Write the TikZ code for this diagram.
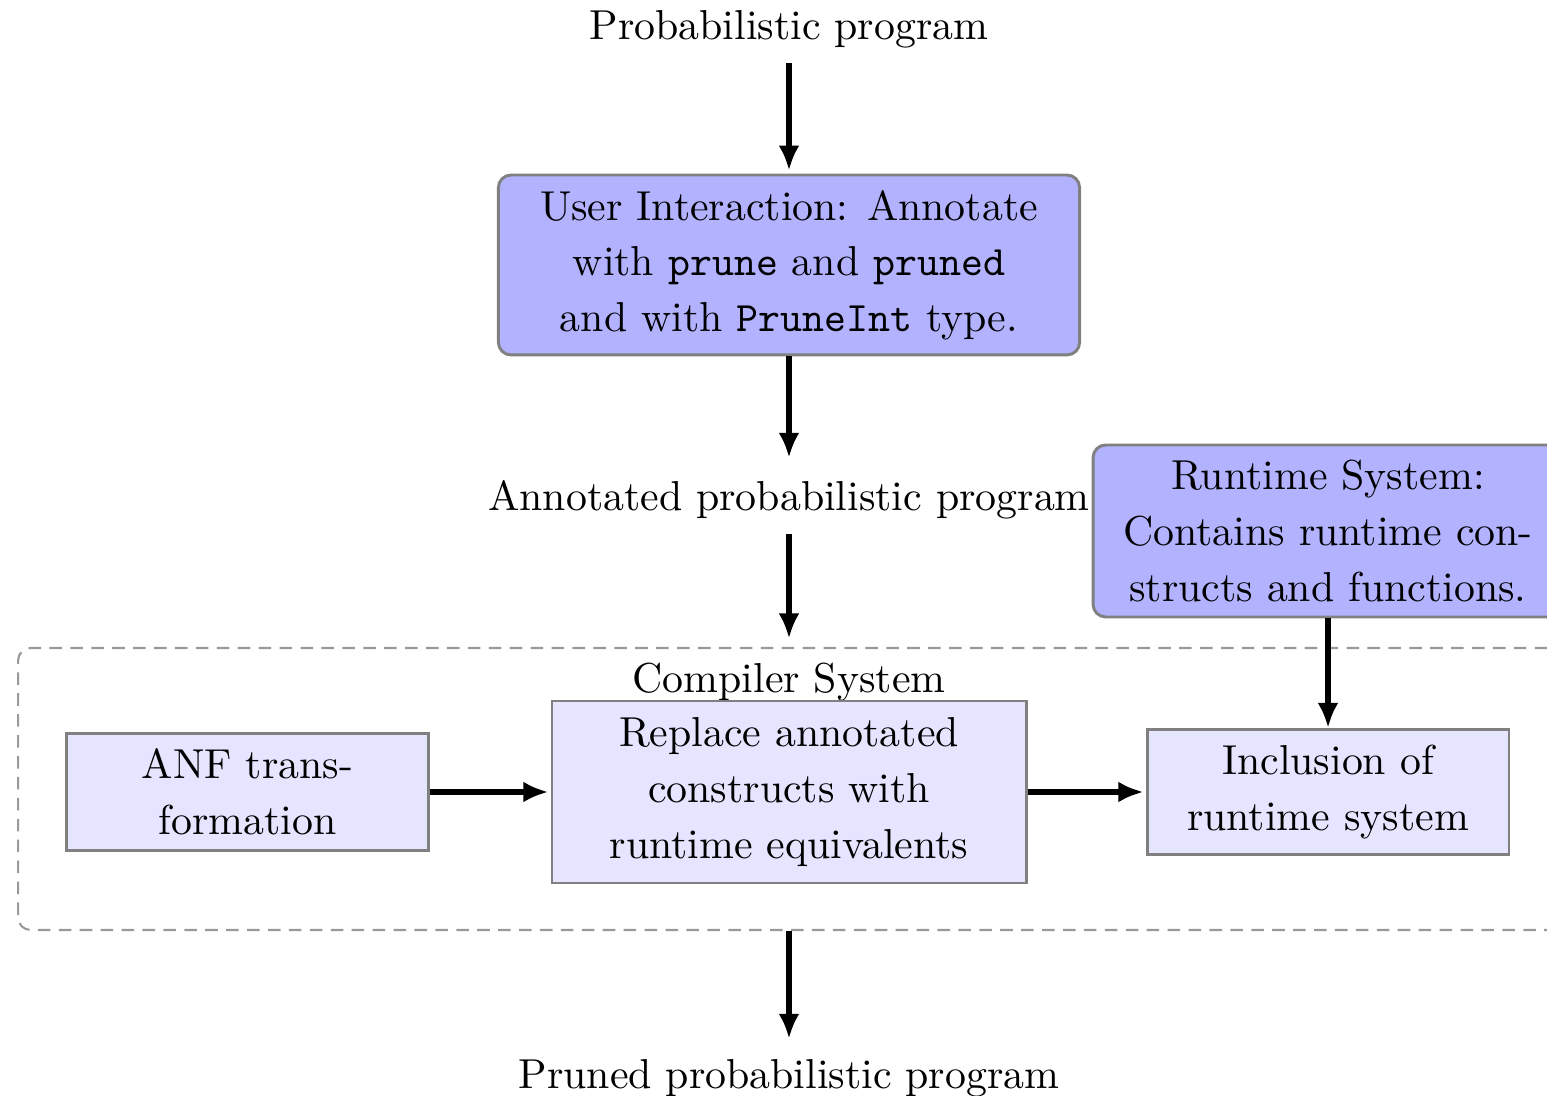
\documentclass[tikz,border=0pt]{standalone}
\usetikzlibrary{arrows.meta}
\begin{document}
\begin{tikzpicture}[x=0.239pt,y=-0.239pt,
  txt/.style={font=\fontsize{10}{13.3}\selectfont, align=center},
  bigbox/.style={txt, draw=black!50, line width=0.7pt, fill=blue!30, rounded corners=3pt},
  smallbox/.style={txt, draw=black!50, line width=0.7pt, fill=blue!10},
  arr/.style={-{Latex[length=6pt,width=5pt]}, line width=1.4pt},
  groupbox/.style={draw=black!40, dash pattern=on 3pt off 2pt, rounded corners=3pt, line width=0.5pt}
]
\clip (0,0) rectangle (1547,1096);
\node[groupbox, minimum width=368.5pt, minimum height=67.4pt] (compiler) at (789,789) {};
\node[txt, anchor=base] (clabel) at (789,693) {Compiler System};
\node[txt, anchor=base] (prob) at (789,40) {Probabilistic program};
\node[bigbox, minimum width=138.9pt, minimum height=43pt] (user) at (789,265)
  {User Interaction: Annotate\\ with \texttt{prune} and \texttt{pruned}\\ and with \texttt{PruneInt} type.};
\node[txt, anchor=base] (annot) at (789,511) {Annotated probabilistic program};
\node[bigbox, minimum width=112.3pt, minimum height=41.1pt] (runtime) at (1328,531)
  {Runtime System:\\ Contains runtime con-\\ structs and functions.};
\node[smallbox, minimum width=86.3pt, minimum height=28pt] (anf) at (247.5,792)
  {ANF trans-\\formation};
\node[smallbox, minimum width=113.3pt, minimum height=43.5pt] (replace) at (789,792)
  {Replace annotated\\ constructs with\\ runtime equivalents};
\node[smallbox, minimum width=86.5pt, minimum height=29.9pt] (incl) at (1328,792)
  {Inclusion of\\ runtime system};
\node[txt, anchor=base] (pruned) at (789,1089) {Pruned probabilistic program};

\draw[arr, shorten >=0.7pt] (prob) -- (user);
\draw[arr, shorten >=2pt] (user) -- (annot);
\draw[arr, shorten >=2pt] (annot) -- (compiler);
\draw[arr] (runtime) -- (incl);
\draw[arr, shorten >=0.5pt] (anf) -- (replace);
\draw[arr, shorten >=0.5pt] (replace) -- (incl);
\draw[arr, shorten >=1.5pt] (compiler) -- (pruned);
\end{tikzpicture}
\end{document}
